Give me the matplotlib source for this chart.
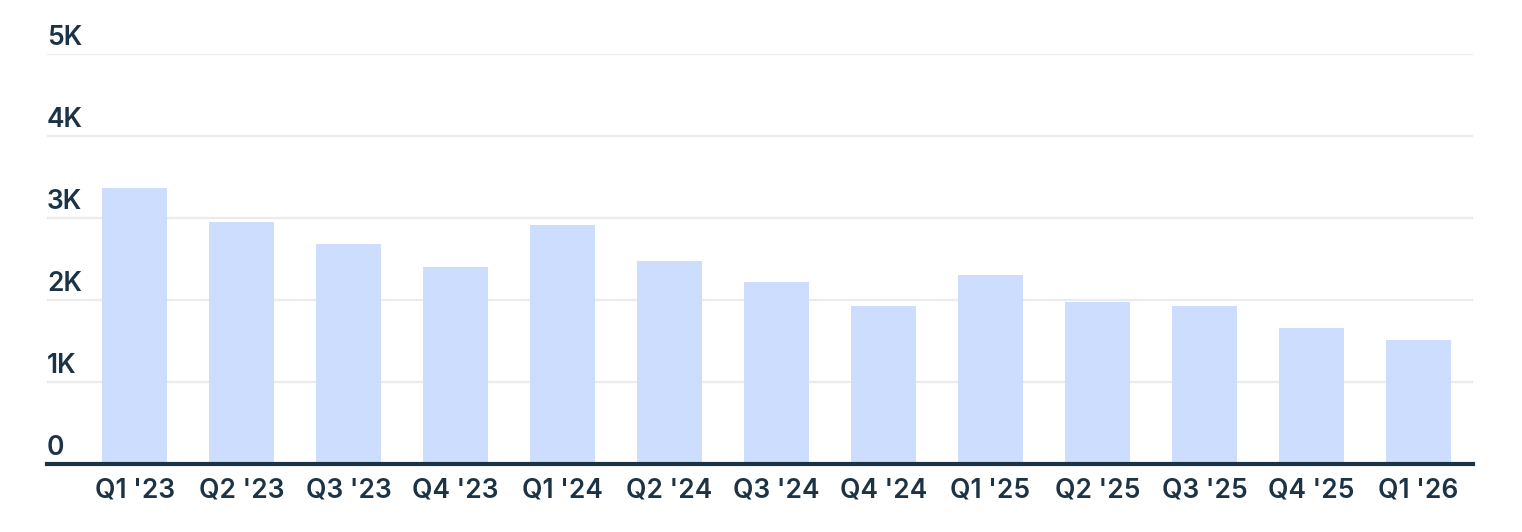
import matplotlib.pyplot as plt
import matplotlib.transforms as mtransforms
import numpy as np

# Data
quarters = ["Q1 '23", "Q2 '23", "Q3 '23", "Q4 '23", "Q1 '24", "Q2 '24", "Q3 '24",
            "Q4 '24", "Q1 '25", "Q2 '25", "Q3 '25", "Q4 '25", "Q1 '26"]
values = [3360, 2950, 2680, 2405, 2915, 2480, 2215, 1925, 2310, 1970, 1925, 1660, 1510]
ytick_vals = [0, 1000, 2000, 3000, 4000, 5000]
ytick_labels = ['0', '1K', '2K', '3K', '4K', '5K']

text_color = '#1c3345'
bar_color = '#cdddfd'
grid_color = '#ebebeb'

plt.rcParams['font.family'] = ['Inter', 'DejaVu Sans']

fig = plt.figure(figsize=(15.22, 5.32), dpi=100)
ax = fig.add_axes([0.0309, 0.1278, 0.9369, 0.7707])

x = np.arange(len(quarters))
ax.bar(x, values, width=0.61, color=bar_color, zorder=2)

ax.set_xlim(-0.82, len(quarters) - 0.49)
ax.set_ylim(0, 5000)

# gridlines
for v in ytick_vals[1:]:
    ax.axhline(v, color=grid_color, linewidth=1.6, zorder=1)

# y labels sit above their gridlines, left aligned
offset = mtransforms.offset_copy(ax.get_yaxis_transform(), fig=fig, x=0, y=3, units='dots')
for v, lab in zip(ytick_vals, ytick_labels):
    ax.text(0, v, lab, transform=offset, ha='left', va='bottom',
            fontsize=19, color=text_color, fontweight='semibold')

ax.set_yticks([])
ax.set_xticks(x)
ax.set_xticklabels(quarters, fontsize=19, color=text_color, fontweight='semibold')
ax.tick_params(axis='x', length=0, pad=10)

for side in ['top', 'right', 'left']:
    ax.spines[side].set_visible(False)
ax.spines['bottom'].set_color(text_color)
ax.spines['bottom'].set_linewidth(3)
ax.spines['bottom'].set_zorder(3)

fig.savefig('out.png', dpi=100)
